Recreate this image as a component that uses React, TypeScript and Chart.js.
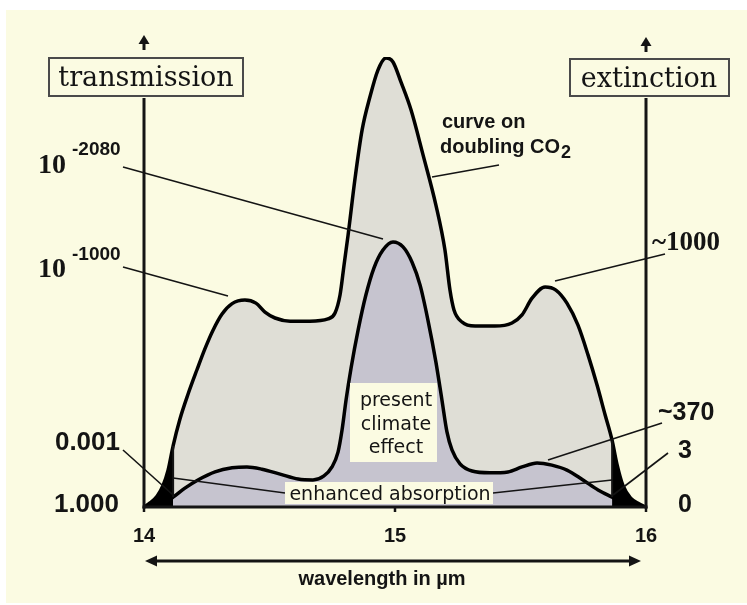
import React, { useEffect, useRef } from "react";
import { Chart, registerables } from "chart.js";

Chart.register(...registerables);

// ---------- data ----------
const wavelengthTicks = [14, 15, 16];

// curve on doubling CO2 (outer envelope)
const doublingX = [
  14.0, 14.024, 14.052, 14.076, 14.096, 14.116, 14.143, 14.175, 14.211, 14.243,
  14.275, 14.311, 14.351, 14.402, 14.446, 14.482, 14.522, 14.582, 14.661, 14.733,
  14.761, 14.781, 14.797, 14.813, 14.841, 14.869, 14.9, 14.932, 14.964, 14.992,
  15.024, 15.064, 15.112, 15.163, 15.199, 15.219, 15.235, 15.267, 15.319, 15.398,
  15.466, 15.506, 15.546, 15.598, 15.641, 15.685, 15.729, 15.769, 15.805, 15.837,
  15.865, 15.884, 15.908, 15.94, 15.972, 16.0,
];
const doublingY = [
  0, 0.9, 2.4, 4.8, 8.2, 13.6, 19.5, 25.0, 30.5, 35.2,
  39.3, 42.9, 45.2, 46.0, 45.3, 43.3, 42.0, 41.3, 41.3, 41.8,
  43.1, 47.1, 53.8, 60.4, 73.1, 83.8, 91.1, 97.1, 99.8, 98.9,
  94.4, 88.2, 78.2, 67.1, 57.1, 48.2, 43.8, 41.1, 40.2, 40.2,
  40.9, 42.7, 46.4, 48.9, 48.2, 45.3, 40.4, 33.8, 27.1, 20.5,
  14.8, 9.6, 4.8, 1.9, 0.7, 0,
];

// present climate effect (inner curve)
const presentX = [
  14.0, 14.044, 14.084, 14.116, 14.163, 14.215, 14.283, 14.351, 14.41, 14.47,
  14.542, 14.614, 14.673, 14.717, 14.749, 14.773, 14.789, 14.805, 14.825, 14.853,
  14.884, 14.916, 14.952, 14.992, 15.032, 15.068, 15.1, 15.131, 15.163, 15.187,
  15.207, 15.227, 15.259, 15.307, 15.378, 15.45, 15.506, 15.566, 15.625, 15.685,
  15.749, 15.809, 15.865, 15.912, 15.956, 16.0,
];
const presentY = [
  0, 0.4, 1.1, 2.2, 4.2, 6.0, 7.8, 8.7, 8.9, 8.4,
  7.3, 6.2, 6.0, 6.9, 8.9, 12.2, 17.1, 23.8, 30.9, 39.3,
  47.1, 53.1, 57.1, 58.9, 57.8, 54.4, 49.3, 41.6, 32.2, 23.8,
  16.7, 12.7, 9.6, 8.0, 7.6, 7.8, 8.9, 9.8, 9.3, 8.2,
  6.0, 3.8, 2.2, 0.9, 0.2, 0,
];

// enhanced-absorption band edges (wavelength)
const bandEdges = [14.116, 15.865];

const transmissionLabels = ["1.000", "0.001", "-1000", "-2080"];
const extinctionLabels = ["0", "3", "~370", "~1000"];

// ---------- styles ----------
const CREAM = "#fbfbe2";
const OUTER_FILL = "#dfded6";
const INNER_FILL = "#c6c4cf";
const INK = "#141414";
const SANS = "'Liberation Sans', Arial, sans-serif";
const SERIF = "'Liberation Serif', 'Times New Roman', serif";
const DSERIF = "'DejaVu Serif', serif";
const DSANS = "'DejaVu Sans', sans-serif";

function drawLine(ctx: CanvasRenderingContext2D, x1: number, y1: number, x2: number, y2: number, w = 1.6) {
  ctx.beginPath();
  ctx.lineWidth = w;
  ctx.strokeStyle = INK;
  ctx.moveTo(x1, y1);
  ctx.lineTo(x2, y2);
  ctx.stroke();
}

function drawText(ctx: CanvasRenderingContext2D, s: string, x: number, y: number, font: string, align: CanvasTextAlign = "left") {
  ctx.font = font;
  ctx.textAlign = align;
  ctx.textBaseline = "alphabetic";
  ctx.fillStyle = INK;
  ctx.fillText(s, x, y);
}

function upArrow(ctx: CanvasRenderingContext2D, x: number, tip: number, end: number) {
  ctx.fillStyle = INK;
  ctx.beginPath();
  ctx.moveTo(x, tip);
  ctx.lineTo(x - 5.5, tip + 9);
  ctx.lineTo(x + 5.5, tip + 9);
  ctx.closePath();
  ctx.fill();
  drawLine(ctx, x, tip + 6, x, end, 3);
}

const deco = {
  id: "deco",
  beforeDraw(chart: any) {
    const ctx = chart.ctx as CanvasRenderingContext2D;
    ctx.save();
    ctx.fillStyle = "#ffffff";
    ctx.fillRect(0, 0, chart.width, chart.height);
    ctx.fillStyle = CREAM;
    ctx.fillRect(6, 10, chart.width - 6, chart.height - 12);
    ctx.restore();
  },
  afterDatasetsDraw(chart: any) {
    const ctx = chart.ctx as CanvasRenderingContext2D;
    const xs = chart.scales.x;
    const ys = chart.scales.y;
    const x0 = xs.getPixelForValue(14);
    const x1 = xs.getPixelForValue(16);
    const yb = ys.getPixelForValue(0);
    const bl = xs.getPixelForValue(bandEdges[0]);
    const br = xs.getPixelForValue(bandEdges[1]);
    ctx.save();

    // leader lines
    drawLine(ctx, 123, 167, 383, 239);
    drawLine(ctx, 123, 267, 228, 296);
    drawLine(ctx, 123, 450, bl, 495);
    drawLine(ctx, bl, 478, 285, 493);
    drawLine(ctx, 493, 493, br, 480);
    drawLine(ctx, 662, 423, 548, 460);
    drawLine(ctx, 668, 453, br + 1, 495);
    drawLine(ctx, 665, 254, 555, 281);
    drawLine(ctx, 432, 177, 499, 165);

    // band edge lines
    drawLine(ctx, bl, ys.getPixelForValue(13.6), bl, ys.getPixelForValue(2.2), 2);
    drawLine(ctx, br, ys.getPixelForValue(14.8), br, ys.getPixelForValue(2.2), 2);

    // text boxes
    ctx.fillStyle = CREAM;
    ctx.fillRect(350, 383, 87, 79);
    ctx.fillRect(285, 482, 208, 22);
    drawText(ctx, "present", 396, 406, `19px ${DSANS}`, "center");
    drawText(ctx, "climate", 396, 430, `19px ${DSANS}`, "center");
    drawText(ctx, "effect", 396, 453, `19px ${DSANS}`, "center");
    drawText(ctx, "enhanced absorption", 390, 500, `19px ${DSANS}`, "center");

    // curve label
    drawText(ctx, "curve on", 442, 128, `bold 20px ${SANS}`);
    ctx.font = `bold 20px ${SANS}`;
    const w = ctx.measureText("doubling CO").width;
    drawText(ctx, "doubling CO", 440, 153, `bold 20px ${SANS}`);
    drawText(ctx, "2", 440 + w + 1, 158, `bold 18px ${SANS}`);

    // axes
    drawLine(ctx, x0, yb + 1.5, x0, 98, 3);
    drawLine(ctx, x1, yb + 1.5, x1, 98, 3);
    drawLine(ctx, x0 - 1.5, yb, x1 + 1.5, yb, 3);
    upArrow(ctx, x0, 35, 50);
    upArrow(ctx, x1, 37, 52);

    // wavelength ticks
    wavelengthTicks.forEach((t) => {
      const px = xs.getPixelForValue(t);
      drawLine(ctx, px, yb, px, yb + 5, 2.5);
      drawText(ctx, String(t), px, 542, `bold 20px ${SANS}`, "center");
    });

    // axis title boxes
    ctx.lineWidth = 2;
    ctx.strokeStyle = "#4a4a4a";
    ctx.fillStyle = CREAM;
    ctx.fillRect(49, 58, 194, 38);
    ctx.strokeRect(49, 58, 194, 38);
    ctx.fillRect(570, 59, 159, 37);
    ctx.strokeRect(570, 59, 159, 37);
    drawText(ctx, "transmission", 146, 86, `27px ${DSERIF}`, "center");
    drawText(ctx, "extinction", 649, 87, `27px ${DSERIF}`, "center");

    // transmission labels (left)
    drawText(ctx, transmissionLabels[0], 119, 512, `bold 26px ${SANS}`, "right");
    drawText(ctx, transmissionLabels[1], 120, 450, `bold 26px ${SANS}`, "right");
    drawText(ctx, "10", 38, 277, `bold 28px ${SERIF}`);
    drawText(ctx, transmissionLabels[2], 72, 260, `bold 19px ${SANS}`);
    drawText(ctx, "10", 38, 173, `bold 28px ${SERIF}`);
    drawText(ctx, transmissionLabels[3], 72, 155, `bold 19px ${SANS}`);

    // extinction labels (right)
    drawText(ctx, extinctionLabels[0], 678, 512, `bold 25px ${SANS}`);
    drawText(ctx, extinctionLabels[1], 678, 458, `bold 25px ${SANS}`);
    drawText(ctx, extinctionLabels[2], 658, 420, `bold 25px ${SANS}`);
    drawText(ctx, extinctionLabels[3], 652, 250, `bold 27px ${SERIF}`);

    // wavelength double arrow
    const ay = 561;
    drawLine(ctx, 150, ay, 635, ay, 3);
    ctx.fillStyle = INK;
    ctx.beginPath();
    ctx.moveTo(145, ay);
    ctx.lineTo(157, ay - 5.5);
    ctx.lineTo(157, ay + 5.5);
    ctx.closePath();
    ctx.fill();
    ctx.beginPath();
    ctx.moveTo(641, ay);
    ctx.lineTo(629, ay - 5.5);
    ctx.lineTo(629, ay + 5.5);
    ctx.closePath();
    ctx.fill();
    drawText(ctx, "wavelength in µm", 382, 585, `bold 20px ${SANS}`, "center");

    ctx.restore();
  },
};

export default function App() {
  const ref = useRef<HTMLCanvasElement | null>(null);

  useEffect(() => {
    if (!ref.current) return;
    const doubling = doublingX.map((x, i) => ({ x, y: doublingY[i] }));
    const present = presentX.map((x, i) => ({ x, y: presentY[i] }));
    const leftBand = doubling.filter((p) => p.x <= bandEdges[0]);
    const rightBand = doubling.filter((p) => p.x >= bandEdges[1]);

    const common = {
      pointRadius: 0,
      fill: "origin",
      cubicInterpolationMode: "monotone" as const,
    };

    const chart = new Chart(ref.current, {
      type: "line",
      data: {
        datasets: [
          { ...common, label: "enhanced absorption (left)", data: leftBand, order: 0, borderWidth: 0, borderColor: "#000", backgroundColor: "#000" },
          { ...common, label: "enhanced absorption (right)", data: rightBand, order: 0, borderWidth: 0, borderColor: "#000", backgroundColor: "#000" },
          { ...common, label: "present climate effect", data: present, order: 1, borderWidth: 3.5, borderColor: "#000", backgroundColor: INNER_FILL },
          { ...common, label: "curve on doubling CO2", data: doubling, order: 2, borderWidth: 3.5, borderColor: "#000", backgroundColor: OUTER_FILL },
        ],
      },
      options: {
        responsive: false,
        animation: false,
        events: [],
        layout: { padding: { left: 144, right: 101, top: 57, bottom: 98 } },
        scales: {
          x: { type: "linear", min: 14, max: 16, display: false },
          y: { type: "linear", min: 0, max: 100, display: false },
        },
        plugins: { legend: { display: false }, tooltip: { enabled: false } },
      },
      plugins: [deco],
    } as any);
    return () => chart.destroy();
  }, []);

  return (
    <div style={{ position: "fixed", left: 0, top: 0, width: 747, height: 605 }}>
      <canvas ref={ref} width={747} height={605} style={{ display: "block" }} />
    </div>
  );
}
